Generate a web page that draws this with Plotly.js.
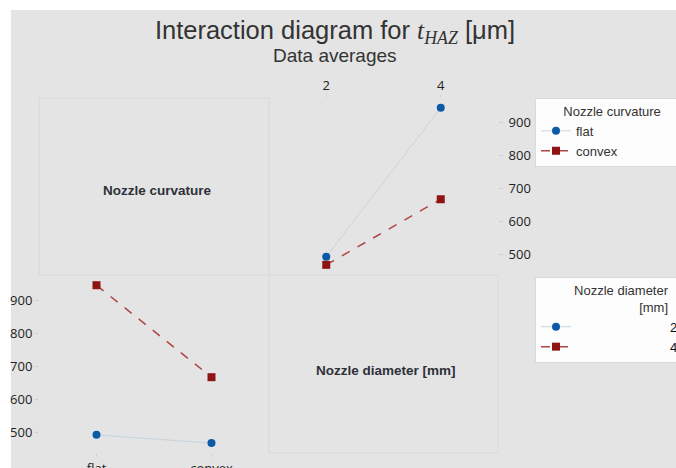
<!DOCTYPE html>
<html>
<head>
<meta charset="utf-8">
<script src="https://cdn.plot.ly/plotly-3.0.1.min.js"></script>
<style>
  html, body { margin: 0; padding: 0; background: #ffffff; overflow: hidden; }
  #chart { width: 676px; height: 468px; }
</style>
</head>
<body>
<div id="chart"></div>
<script>
// Factor levels
const curvatures = ['flat', 'convex'];
const diameters = [2, 4];
// Mean t_HAZ [µm] for each curvature, listed by nozzle diameter (2, 4)
const flatMeans = [492, 946];
const convexMeans = [467, 667];
// Y ticks shared by both interaction panels
const yTicks = [500, 600, 700, 800, 900];

const W = 676, H = 468;
const px = v => v / W;          // pixel -> paper x
const py = v => 1 - v / H;      // pixel -> paper y
const pad = n => '\u00a0'.repeat(n);

const blue = '#0a5aa8';
const blueLine = '#c5d5de';
const red = '#8e1414';
const redLine = '#b04444';

const tickFont = { family: 'Open Sans, Noto Sans, sans-serif', size: 13, color: '#222' };
const textFont = 'Liberation Sans, Arial, sans-serif';

const meansByCurv = { flat: flatMeans, convex: convexMeans };
const styles = [
  { marker: { symbol: 'circle', size: 8, color: blue }, line: { color: blueLine, width: 1, dash: 'solid' } },
  { marker: { symbol: 'square', size: 8, color: red }, line: { color: redLine, width: 1.5, dash: 'dash' } }
];

const traces = [];
// Top-right panel: x = nozzle diameter, one line per curvature
curvatures.forEach((c, i) => {
  traces.push({
    type: 'scatter', mode: 'lines+markers', name: c,
    x: diameters, y: meansByCurv[c],
    xaxis: 'x', yaxis: 'y', legend: 'legend',
    marker: styles[i].marker, line: styles[i].line, cliponaxis: false
  });
});
// Bottom-left panel: x = nozzle curvature, one line per diameter
// (labels are padded so they sit at the right edge of their legend box)
diameters.forEach((d, j) => {
  traces.push({
    type: 'scatter', mode: 'lines+markers', name: pad(26) + String(d),
    x: curvatures, y: curvatures.map(c => meansByCurv[c][j]),
    xaxis: 'x2', yaxis: 'y2', legend: 'legend2',
    marker: styles[j].marker, line: styles[j].line, cliponaxis: false
  });
});

const axisCommon = {
  showgrid: false, zeroline: false, showline: false,
  ticks: 'outside', ticklen: 5, tickcolor: '#cfcfcf', tickfont: tickFont
};

const layout = {
  width: W, height: H,
  margin: { l: 0, r: 0, t: 0, b: 0, autoexpand: false },
  paper_bgcolor: '#ffffff',
  plot_bgcolor: '#ffffff',
  showlegend: true,
  title: {
    text: 'Interaction diagram for <span style="font-family:\'Liberation Serif\'"><i>t</i><sub><i>HAZ</i></sub></span> [μm]',
    x: px(335), xanchor: 'center', xref: 'paper',
    y: py(30), yanchor: 'middle', yref: 'paper',
    font: { family: textFont, size: 25.5, color: '#333' }
  },
  xaxis: Object.assign({}, axisCommon, {
    domain: [px(269), px(498)], anchor: 'y', side: 'top',
    range: [1, 5], tickvals: diameters, ticklen: 2
  }),
  yaxis: Object.assign({}, axisCommon, {
    domain: [py(275), py(98)], anchor: 'x', side: 'right',
    range: [436, 976], tickvals: yTicks, ticklen: 4, ticklabelstandoff: 3
  }),
  xaxis2: Object.assign({}, axisCommon, {
    domain: [px(39), px(269)], anchor: 'y2', side: 'bottom',
    type: 'category', range: [-0.5, 1.5], ticklen: 3
  }),
  yaxis2: Object.assign({}, axisCommon, {
    domain: [py(453), py(275)], anchor: 'x2', side: 'left',
    range: [437, 977], tickvals: yTicks, ticklen: 3
  }),
  legend: {
    x: px(535), xanchor: 'left', y: py(98), yanchor: 'top',
    bgcolor: '#fdfdfd', bordercolor: '#dadada', borderwidth: 1,
    font: { family: textFont, size: 13, color: '#333' },
    title: { text: pad(7) + 'Nozzle curvature' + pad(4), side: 'top', font: { family: textFont, size: 13, color: '#333' } },
    tracegroupgap: 0, itemclick: false
  },
  legend2: {
    x: px(535), xanchor: 'left', y: py(277), yanchor: 'top',
    bgcolor: '#fdfdfd', bordercolor: '#dadada', borderwidth: 1,
    font: { family: textFont, size: 13, color: '#111' },
    title: { text: pad(10) + 'Nozzle diameter<br>' + pad(28) + '[mm]', side: 'top', font: { family: textFont, size: 13, color: '#333' } },
    tracegroupgap: 0, itemclick: false
  },
  shapes: [
    // grey backdrop
    { type: 'rect', xref: 'paper', yref: 'paper', x0: px(11), x1: 1, y0: 0, y1: py(10),
      fillcolor: '#e4e4e4', line: { width: 0 }, layer: 'below' },
    // factor name cells
    { type: 'rect', xref: 'paper', yref: 'paper', x0: px(39), x1: px(269), y0: py(275), y1: py(98),
      fillcolor: '#e4e4e4', line: { color: '#d8d8d8', width: 1 }, layer: 'below' },
    { type: 'rect', xref: 'paper', yref: 'paper', x0: px(269), x1: px(498), y0: py(453), y1: py(275),
      fillcolor: '#e4e4e4', line: { color: '#d8d8d8', width: 1 }, layer: 'below' }
  ],
  annotations: [
    { text: 'Data averages', xref: 'paper', yref: 'paper', x: px(335), y: py(55),
      xanchor: 'center', yanchor: 'middle', showarrow: false,
      font: { family: textFont, size: 19, color: '#333' } },
    { text: '<b>Nozzle curvature</b>', xref: 'paper', yref: 'paper', x: px(157), y: py(190),
      xanchor: 'center', yanchor: 'middle', showarrow: false,
      font: { family: textFont, size: 13.5, color: '#2e3038' } },
    { text: '<b>Nozzle diameter [mm]</b>', xref: 'paper', yref: 'paper', x: px(386), y: py(370),
      xanchor: 'center', yanchor: 'middle', showarrow: false,
      font: { family: textFont, size: 13.5, color: '#2e3038' } }
  ]
};

Plotly.newPlot('chart', traces, layout, { staticPlot: true, displayModeBar: false });
</script>
</body>
</html>
